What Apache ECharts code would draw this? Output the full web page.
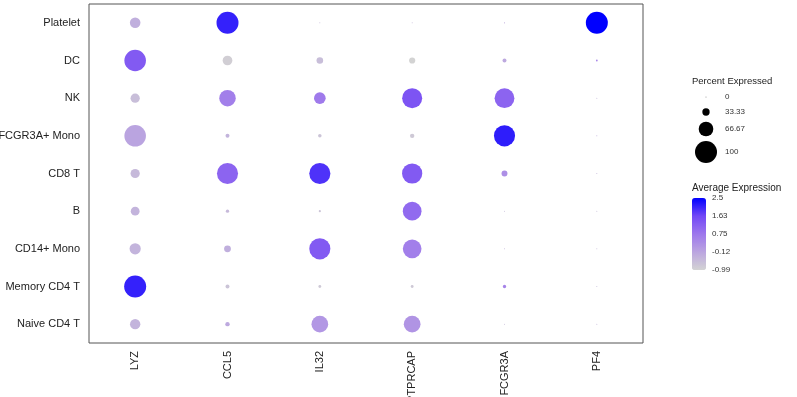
<!DOCTYPE html>
<html>
<head>
<meta charset="utf-8">
<script src="https://cdn.jsdelivr.net/npm/echarts@6/dist/echarts.min.js"></script>
<style>
  html, body { margin: 0; padding: 0; background: #fff; }
  #main { width: 797px; height: 397px; }
</style>
</head>
<body>
<div id="main"></div>
<script>
'use strict';

var genes = ['LYZ', 'CCL5', 'IL32', 'PTPRCAP', 'FCGR3A', 'PF4'];
// top to bottom
var cellTypes = ['Platelet', 'DC', 'NK', 'FCGR3A+ Mono', 'CD8 T', 'B', 'CD14+ Mono', 'Memory CD4 T', 'Naive CD4 T'];

// percent expressed, one row per cell type, columns follow genes
var pctExpressed = [
    [48, 100, 3, 3, 5, 100],
    [98, 44, 30, 28, 18, 8],
    [42, 75, 53, 91, 90, 2],
    [98, 18, 16, 20, 96, 3],
    [42, 96, 96, 92, 27, 2],
    [40, 15, 10, 85, 3, 3],
    [51, 31, 96, 85, 3, 2],
    [100, 18, 13, 13, 15, 3],
    [47, 20, 76, 76, 3, 2]
];

// average expression (scaled)
var avgExpression = [
    [-0.3, 2.1, -0.6, -0.6, -0.3, 2.5],
    [1.3, -0.9, -0.6, -0.99, -0.2, 0.5],
    [-0.6, 0.6, 0.7, 1.4, 1.1, -0.5],
    [-0.1, -0.4, -0.7, -0.8, 2.15, -0.3],
    [-0.5, 1.1, 1.9, 1.3, 0.3, -0.5],
    [-0.4, -0.5, -0.7, 1.0, -0.6, -0.6],
    [-0.4, -0.3, 1.3, 0.6, -0.5, -0.6],
    [2.1, -0.7, -0.8, -0.8, 0.5, -0.6],
    [-0.4, -0.2, 0.15, 0.2, -0.6, -0.5]
];

var sizeTicks = [0, 33.33, 66.67, 100];
var colorTicks = [2.5, 1.63, 0.75, -0.12, -0.99];

var FONT = '"Liberation Sans", Arial, sans-serif';
var colMin = -0.99, colMax = 2.5;

function dotSize(pct) {
    return Math.max(pct * 0.22, 1); // radius scale, ~22px at 100%
}

var dots = [];
for (var i = 0; i < cellTypes.length; i++) {
    for (var j = 0; j < genes.length; j++) {
        dots.push([j, i, avgExpression[i][j], pctExpressed[i][j]]);
    }
}

// legends (size + colour bar labels)
var graphics = [];
graphics.push({ type: 'text', left: 692, top: 76, style: { text: 'Percent Expressed', font: '9.5px ' + FONT, fill: '#222' } });
var sizeY = [97, 112, 129, 152];
for (var k = 0; k < sizeTicks.length; k++) {
    var r = dotSize(sizeTicks[k]) / 2;
    graphics.push({ type: 'circle', shape: { cx: 706, cy: sizeY[k], r: k === 0 ? 0.6 : r }, style: { fill: k === 0 ? '#999' : '#000' } });
    graphics.push({ type: 'text', x: 725, y: sizeY[k], style: { text: String(sizeTicks[k]), font: '8px ' + FONT, fill: '#333', verticalAlign: 'middle' } });
}
graphics.push({ type: 'text', left: 692, top: 183, style: { text: 'Average Expression', font: '10px ' + FONT, fill: '#222' } });
var barTop = 198, barH = 72;
for (var m = 0; m < colorTicks.length; m++) {
    var yy = barTop + (colMax - colorTicks[m]) / (colMax - colMin) * barH;
    graphics.push({ type: 'text', x: 712, y: yy, style: { text: String(colorTicks[m]), font: '8px ' + FONT, fill: '#333', verticalAlign: 'middle' } });
    if (m > 0 && m < colorTicks.length - 1) {
        graphics.push({ type: 'line', shape: { x1: 692, y1: yy, x2: 695, y2: yy }, style: { stroke: '#fff', lineWidth: 1 } });
        graphics.push({ type: 'line', shape: { x1: 703, y1: yy, x2: 706, y2: yy }, style: { stroke: '#fff', lineWidth: 1 } });
    }
}

var option = {
    animation: false,
    backgroundColor: '#fff',
    grid: {
        left: 89, right: 154, top: 4, bottom: 54,
        containLabel: false,
        outerBoundsMode: 'none',
        show: true, borderColor: '#555', borderWidth: 1
    },
    xAxis: {
        type: 'category',
        data: genes,
        boundaryGap: true,
        axisLine: { show: false },
        axisTick: { show: false },
        splitLine: { show: false },
        axisLabel: { rotate: 90, fontSize: 11, fontFamily: FONT, color: '#222', margin: 8, interval: 0 }
    },
    yAxis: {
        type: 'category',
        data: cellTypes,
        inverse: true,
        boundaryGap: true,
        axisLine: { show: false },
        axisTick: { show: false },
        splitLine: { show: false },
        axisLabel: { fontSize: 11, fontFamily: FONT, color: '#222', margin: 9, interval: 0 }
    },
    visualMap: {
        type: 'continuous',
        min: colMin,
        max: colMax,
        dimension: 2,
        seriesIndex: 0,
        calculable: false,
        orient: 'vertical',
        left: 692,
        top: barTop,
        padding: 0,
        itemWidth: 14,
        itemHeight: barH,
        inRange: { color: ['#d3d3d3', '#bba5e0', '#9d77ec', '#7248f6', '#0000ff'] }
    },
    series: [{
        type: 'scatter',
        data: dots,
        symbolSize: function (val) { return dotSize(val[3]); },
        itemStyle: { opacity: 1 }
    }],
    graphic: graphics
};

var chart = echarts.init(document.getElementById('main'));
chart.setOption(option);
</script>
</body>
</html>
